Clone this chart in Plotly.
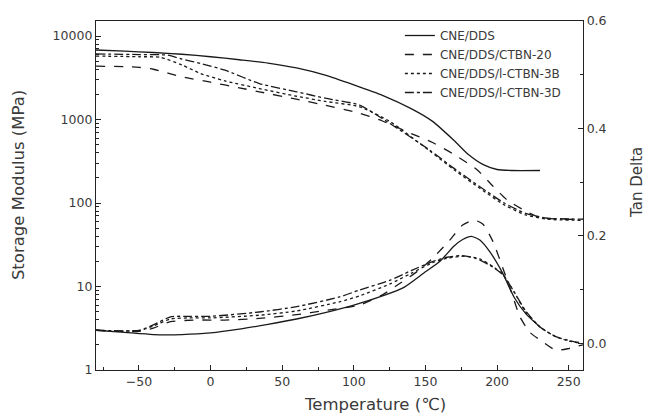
import plotly.graph_objects as go

# ---- Storage modulus (MPa), left log axis ----
T_e_solid = [-80, -60, -40, -20, 0, 20, 40, 60, 80, 100, 120, 140, 155, 170, 180, 190, 200, 210, 230]
E_solid = [6800, 6600, 6350, 6050, 5650, 5200, 4750, 4150, 3400, 2600, 1950, 1350, 950, 560, 380, 290, 252, 245, 245]

T_e_dash = [-80, -60, -50, -40, -20, 0, 20, 34, 60, 80, 104, 120, 140, 155, 169, 186, 197, 207, 220, 230, 245, 260]
E_dash = [4350, 4300, 4220, 4000, 3250, 2800, 2400, 2150, 1750, 1480, 1190, 960, 680, 530, 390, 250, 160, 109, 80, 67, 64, 64]

T_e_dot = [-80, -50, -35, -20, -7, 10, 34, 60, 80, 104, 125, 153, 170, 188, 205, 220, 235, 260]
E_dot = [5750, 5650, 5560, 4500, 3560, 2900, 2350, 1900, 1650, 1420, 950, 420, 250, 150, 95, 72, 64, 62]

T_e_dd = [-80, -50, -30, -20, -7, 10, 34, 60, 80, 104, 125, 153, 170, 188, 205, 220, 235, 260]
E_dd = [6100, 6000, 5900, 5300, 4700, 3900, 2700, 2150, 1800, 1490, 900, 430, 260, 157, 100, 75, 66, 64]

# ---- Tan delta, right axis ----
T_t_solid = [-80, -60, -40, -20, 0, 20, 40, 60, 80, 100, 120, 135, 150, 160, 170, 176, 182, 188, 195, 204, 212, 220, 230]
D_solid = [0.024, 0.020, 0.016, 0.016, 0.019, 0.026, 0.035, 0.045, 0.057, 0.071, 0.088, 0.104, 0.133, 0.152, 0.181, 0.193, 0.199, 0.192, 0.170, 0.130, 0.085, 0.055, 0.030]

T_t_dash = [-80, -50, -40, -28, -10, 10, 34, 60, 80, 104, 120, 132, 145, 155, 167, 176, 184, 190, 197, 204, 210, 216, 223, 230, 241, 250, 260]
D_dash = [0.024, 0.022, 0.028, 0.040, 0.043, 0.043, 0.046, 0.053, 0.061, 0.071, 0.090, 0.111, 0.135, 0.158, 0.192, 0.220, 0.229, 0.222, 0.190, 0.140, 0.095, 0.049, 0.020, 0.006, -0.013, -0.010, -0.003]

T_t_dot = [-80, -50, -40, -28, -15, 0, 34, 60, 90, 104, 125, 140, 155, 165, 178, 188, 197, 204, 212, 220, 230, 241, 250, 258]
D_dot = [0.024, 0.023, 0.032, 0.045, 0.047, 0.047, 0.052, 0.060, 0.077, 0.088, 0.110, 0.130, 0.150, 0.158, 0.162, 0.157, 0.143, 0.128, 0.095, 0.058, 0.030, 0.012, 0.004, 0.000]

T_t_dd = [-80, -50, -40, -28, -15, 0, 34, 60, 90, 104, 125, 140, 155, 165, 175, 185, 195, 204, 212, 220, 230, 241, 250, 258]
D_dd = [0.024, 0.024, 0.034, 0.049, 0.050, 0.050, 0.058, 0.068, 0.086, 0.099, 0.117, 0.135, 0.152, 0.160, 0.163, 0.158, 0.145, 0.128, 0.095, 0.060, 0.030, 0.012, 0.005, 0.001]

names = ["CNE/DDS", "CNE/DDS/CTBN-20", "CNE/DDS/l-CTBN-3B", "CNE/DDS/l-CTBN-3D"]
dashes = ["solid", "dash", "dot", "dashdot"]

storage = [(T_e_solid, E_solid), (T_e_dash, E_dash), (T_e_dot, E_dot), (T_e_dd, E_dd)]
tand = [(T_t_solid, D_solid), (T_t_dash, D_dash), (T_t_dot, D_dot), (T_t_dd, D_dd)]

col = "#1a1a1a"
txt = "#3a3a3a"
fam = "DejaVu Sans, Verdana, sans-serif"
fig = go.Figure()
for i in range(4):
    fig.add_trace(go.Scatter(x=storage[i][0], y=storage[i][1], mode="lines", name=names[i],
                             legendgroup=names[i], yaxis="y",
                             line=dict(color=col, width=1.3, dash=dashes[i], shape="spline", smoothing=0.6)))
for i in range(4):
    fig.add_trace(go.Scatter(x=tand[i][0], y=tand[i][1], mode="lines", name=names[i],
                             legendgroup=names[i], showlegend=False, yaxis="y2",
                             line=dict(color=col, width=1.3, dash=dashes[i], shape="spline", smoothing=0.6)))

tickfont = dict(family=fam, size=12.5, color=txt)
fig.update_layout(
    width=652, height=418,
    margin=dict(l=96, r=69, t=21, b=48, autoexpand=False),
    paper_bgcolor="white", plot_bgcolor="white",
    font=dict(family=fam, size=12.5, color=txt),
    showlegend=True,
    legend=dict(x=0.624, y=1.0, xanchor="left", yanchor="top", bgcolor="rgba(0,0,0,0)",
                font=dict(family=fam, size=12, color=txt), tracegroupgap=0, itemwidth=30),
    xaxis=dict(range=[-80, 260], tickmode="array", tickvals=[-50, 0, 50, 100, 150, 200, 250],
               ticks="inside", ticklen=5, tickcolor="#222", showline=True, linecolor="#222", linewidth=1.3,
               mirror=True, showgrid=False, zeroline=False, automargin=False, tickfont=tickfont,
               minor=dict(ticks="inside", ticklen=3, tickcolor="#222", dtick=25, tick0=0, showgrid=False)),
    yaxis=dict(type="log", range=[0, 4.18], tickvals=[1, 10, 100, 1000, 10000],
               ticktext=["1", "10", "100", "1000", "10000"], automargin=False, tickfont=tickfont,
               ticks="inside", ticklen=5, tickcolor="#222", showline=True, linecolor="#222", linewidth=1.3,
               showgrid=False, zeroline=False,
               minor=dict(ticks="inside", ticklen=3, tickcolor="#222", dtick="D1", showgrid=False)),
    yaxis2=dict(overlaying="y", side="right", range=[-0.05, 0.6], tickvals=[0.0, 0.2, 0.4, 0.6],
                tickformat=".1f", automargin=False, tickfont=tickfont,
                ticks="inside", ticklen=5, tickcolor="#222", showline=True, linecolor="#222", linewidth=1.3,
                showgrid=False, zeroline=False,
                minor=dict(ticks="inside", ticklen=3, tickcolor="#222", tickvals=[0.1, 0.3, 0.5], showgrid=False)),
    annotations=[
        dict(text="Storage Modulus (MPa)", xref="paper", yref="paper", x=-0.160, y=0.530,
             textangle=-90, showarrow=False, xanchor="center", yanchor="middle",
             font=dict(family=fam, size=16.5, color=txt)),
        dict(text="Tan Delta", xref="paper", yref="paper", x=(637 - 96) / 487, y=0.536,
             textangle=-90, showarrow=False, xanchor="center", yanchor="middle",
             font=dict(family=fam, size=15, color=txt)),
        dict(text="Temperature (℃)", xref="paper", yref="paper", x=(375 - 96) / 487, y=-0.100,
             showarrow=False, xanchor="center", yanchor="middle",
             font=dict(family=fam, size=16.5, color=txt)),
    ],
)

fig.write_html("out.html", config={"displayModeBar": False},
               post_script="document.body.style.margin='0';document.body.style.padding='0';")
